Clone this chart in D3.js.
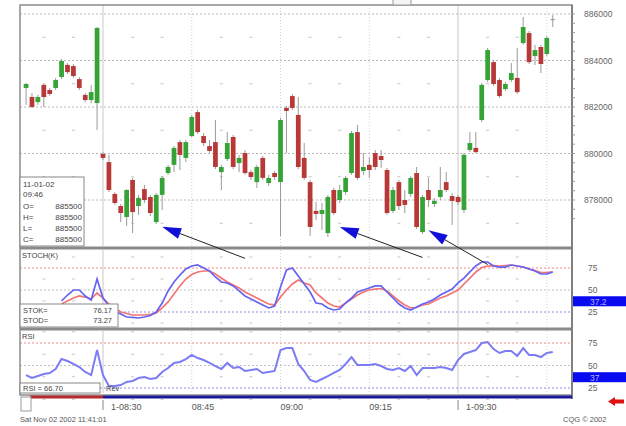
<!DOCTYPE html>
<html>
<head>
<meta charset="utf-8">
<script src="https://cdn.jsdelivr.net/npm/d3@7"></script>
<style>
  body { margin: 0; background: #fff; }
  svg { display: block; font-family: "Liberation Sans", Arial, sans-serif; }
</style>
</head>
<body>
<svg id="chart" width="626" height="426"></svg>
<script>
// one minute bars: last 13 of 10-31 session, then 11-01 from the open
const times = d3.timeMinute.range(new Date(2002, 9, 31, 15, 2), new Date(2002, 9, 31, 15, 15))
  .concat(d3.timeMinute.range(new Date(2002, 10, 1, 8, 30), new Date(2002, 10, 1, 9, 47)))
  .map(d3.timeFormat("%m-%d %H:%M"));

// [open, high, low, close]
const bars = [
  [8828.2, 8830.3, 8820.9, 8829.9], [8824.3, 8826.0, 8819.6, 8820.0], [8822.1, 8825.2, 8820.9, 8824.3],
  [8829.5, 8829.9, 8820.0, 8824.3], [8827.3, 8828.2, 8824.7, 8825.6], [8828.2, 8832.5, 8827.3, 8831.6],
  [8832.9, 8840.6, 8832.0, 8839.8], [8838.1, 8838.9, 8834.2, 8835.0], [8837.6, 8838.5, 8832.5, 8833.3],
  [8832.0, 8832.9, 8827.3, 8828.2], [8825.2, 8826.0, 8822.1, 8823.0], [8823.0, 8829.5, 8821.7, 8826.4],
  [8821.7, 8854.4, 8810.1, 8854.0],
  [8799.8, 8800.6, 8797.2, 8798.1], [8796.3, 8799.4, 8783.4, 8784.3], [8782.6, 8783.4, 8777.9, 8778.7],
  [8777.4, 8778.3, 8770.5, 8774.4], [8772.7, 8784.7, 8768.8, 8784.3], [8788.6, 8789.5, 8765.8, 8774.8],
  [8777.4, 8782.2, 8773.6, 8780.9], [8784.7, 8786.5, 8778.7, 8780.0], [8781.3, 8782.2, 8773.1, 8774.4],
  [8770.5, 8783.0, 8769.7, 8782.2], [8782.2, 8790.3, 8775.7, 8789.5], [8791.6, 8795.1, 8790.8, 8794.2],
  [8795.1, 8803.2, 8792.0, 8802.4], [8804.9, 8805.8, 8792.9, 8799.4], [8798.1, 8805.8, 8796.3, 8804.9],
  [8807.5, 8816.6, 8807.1, 8815.7], [8817.8, 8818.7, 8808.4, 8809.2], [8807.5, 8808.8, 8803.2, 8804.5],
  [8803.2, 8805.8, 8800.2, 8801.1], [8804.9, 8814.4, 8793.3, 8794.2], [8792.0, 8795.1, 8784.3, 8794.2],
  [8797.6, 8809.2, 8796.8, 8804.5], [8807.1, 8808.0, 8793.3, 8794.2], [8795.9, 8799.4, 8792.0, 8798.1],
  [8800.2, 8801.5, 8790.8, 8791.6], [8792.0, 8792.9, 8788.6, 8789.9], [8787.7, 8795.1, 8785.2, 8794.2],
  [8798.1, 8798.9, 8788.6, 8789.5], [8787.3, 8790.8, 8786.0, 8789.5], [8791.6, 8792.5, 8788.6, 8789.9],
  [8787.7, 8815.3, 8764.5, 8814.4], [8819.6, 8820.4, 8800.2, 8818.3], [8824.7, 8825.6, 8818.7, 8819.6],
  [8816.6, 8824.3, 8793.3, 8794.2], [8798.1, 8804.5, 8788.6, 8789.5], [8787.7, 8788.6, 8764.5, 8768.4],
  [8775.3, 8779.1, 8771.4, 8774.0], [8774.0, 8778.7, 8767.1, 8775.7], [8765.8, 8782.2, 8764.1, 8781.3],
  [8784.3, 8785.2, 8773.6, 8774.4], [8780.0, 8786.5, 8778.7, 8784.3], [8783.4, 8790.3, 8782.2, 8789.5],
  [8791.6, 8809.7, 8790.8, 8808.8], [8809.2, 8812.3, 8788.6, 8789.5], [8792.5, 8800.2, 8790.8, 8794.2],
  [8795.1, 8798.5, 8789.5, 8792.9], [8800.2, 8801.5, 8792.9, 8794.2], [8798.9, 8801.5, 8793.8, 8797.2],
  [8792.9, 8793.8, 8773.6, 8774.4], [8775.3, 8785.6, 8774.4, 8784.3], [8787.7, 8788.6, 8775.7, 8777.4],
  [8780.0, 8784.3, 8774.4, 8777.9], [8782.6, 8790.3, 8781.3, 8789.5], [8791.6, 8794.2, 8767.5, 8768.4],
  [8766.2, 8782.2, 8765.4, 8781.3], [8784.3, 8789.5, 8777.0, 8780.0], [8778.3, 8780.9, 8777.0, 8779.6],
  [8781.3, 8794.2, 8780.0, 8784.3], [8787.7, 8792.0, 8783.4, 8784.3], [8781.7, 8783.0, 8769.3, 8779.6],
  [8781.3, 8782.2, 8777.9, 8779.1], [8775.7, 8800.2, 8774.4, 8799.4], [8801.5, 8809.2, 8800.6, 8804.5],
  [8802.4, 8809.2, 8800.2, 8800.6], [8814.4, 8830.3, 8813.5, 8829.5], [8831.6, 8845.4, 8830.7, 8844.5],
  [8839.3, 8840.2, 8829.0, 8829.9], [8831.6, 8832.5, 8823.9, 8824.7], [8827.7, 8830.7, 8826.9, 8829.9],
  [8831.6, 8838.9, 8830.7, 8834.6], [8832.5, 8845.4, 8825.6, 8826.4], [8847.5, 8858.7, 8846.7, 8854.4],
  [8851.8, 8852.7, 8838.5, 8839.3], [8841.9, 8846.7, 8838.1, 8844.5], [8845.8, 8846.7, 8834.6, 8838.5],
  [8842.8, 8850.5, 8841.9, 8849.7], [8857.8, 8859.5, 8854.4, 8857.8]
];

const stochK = [null, null, null, null, null, null,
  37.5, 44.3, 50.0, 50.0, 43.2, 38.6, 62.5,
  40.9, 31.8, 26.2, 22.7, 19.3, 18.8, 18.2, 19.3, 21.0, 25.0,
  35.2, 48.9, 59.1, 67.0, 73.9, 77.3, 78.4, 75.0, 71.6, 64.8,
  59.1, 58.0, 54.6, 48.9, 43.2, 39.8, 36.4, 33.0, 29.6, 31.8,
  53.4, 72.7, 75.0, 65.9, 56.8, 47.7, 35.2, 34.1, 29.6, 27.3,
  28.4, 35.2, 40.9, 47.7, 50.0, 52.3, 54.6, 54.6, 47.7, 40.9,
  34.1, 29.6, 27.3, 30.7, 34.1, 36.4, 39.8, 44.3, 47.7, 51.1,
  58.0, 63.6, 70.5, 77.3, 81.8, 81.8, 77.3, 76.1, 76.1, 78.4,
  77.3, 76.1, 73.9, 71.6, 68.2, 68.2, 70.5];

const stochD = [null, null, null, null, null, null,
  34.1, 37.5, 40.9, 43.2, 42.0, 39.8, 46.6,
  40.9, 34.1, 29.6, 25.0, 23.3, 21.6, 21.6, 21.6, 22.2, 23.9,
  29.6, 36.4, 45.5, 54.6, 62.5, 67.6, 70.5, 71.6, 71.6, 68.2,
  63.6, 59.1, 55.7, 52.3, 47.7, 44.3, 40.9, 37.5, 34.1, 33.0,
  42.0, 50.0, 56.8, 61.4, 58.0, 55.7, 46.6, 40.9, 35.2, 31.8,
  30.7, 35.2, 39.8, 44.3, 47.7, 50.0, 51.1, 51.7, 48.9, 43.2,
  37.5, 33.0, 29.6, 30.1, 33.0, 34.1, 37.5, 40.9, 43.2, 46.6,
  50.0, 56.8, 63.6, 70.5, 75.6, 77.3, 77.8, 77.3, 77.8, 78.4,
  77.3, 76.1, 73.9, 72.2, 69.9, 69.9, 70.5];

const rsi = [
  39.4, 36.1, 38.3, 40.6, 41.7, 46.1, 57.2, 55.0, 51.7, 48.3, 42.8, 39.4, 67.2,
  39.4, 27.2, 27.2, 28.3, 31.7, 32.8, 36.1, 37.2, 35.0, 36.1,
  42.8, 47.2, 52.8, 53.9, 57.2, 61.7, 58.3, 56.1, 52.8, 49.4,
  46.1, 52.8, 47.2, 48.3, 43.9, 45.0, 46.1, 41.7, 42.8, 43.9,
  67.2, 69.4, 69.4, 51.7, 43.9, 33.9, 31.7, 35.0, 38.3, 41.7,
  45.0, 51.7, 59.4, 50.6, 50.6, 50.6, 51.7, 49.4, 46.1, 45.0,
  47.2, 43.9, 49.4, 39.4, 47.2, 47.2, 47.2, 48.3, 47.2, 45.0,
  56.1, 62.8, 65.0, 67.2, 75.0, 76.1, 68.3, 63.9, 66.1, 66.1,
  60.6, 69.4, 61.7, 61.7, 59.4, 63.9, 65.0];

const priceLevels = [8860, 8840, 8820, 8800, 8780];
const priceMinor = [8850, 8830, 8810, 8790, 8770];
const oscLevels = [75, 50, 25];
const oscMinor = [87.5, 62.5, 37.5, 12.5];
const gridTimes = ["11-01 08:30", "11-01 08:45", "11-01 09:00", "11-01 09:15", "11-01 09:30", "11-01 09:45"];
const minorTimes = ["10-31 15:05", "10-31 15:10", "11-01 08:35", "11-01 08:40", "11-01 08:50", "11-01 08:55",
  "11-01 09:05", "11-01 09:10", "11-01 09:20", "11-01 09:25", "11-01 09:35", "11-01 09:40"];
const axisTimes = ["11-01 08:30", "11-01 08:45", "11-01 09:00", "11-01 09:15", "11-01 09:30"];
const axisLabels = ["1-08:30", "08:45", "09:00", "09:15", "1-09:30"];

const infoRows = [["O=", "885500"], ["H=", "885500"], ["L=", "885500"], ["C=", "885500"]];
const stochRows = [["STOK=", "76.17"], ["STOD=", "73.27"]];
const stochMarker = 37.2, rsiMarker = 37;

// blue pointers from the price lows down to the stochastic
const arrows = [
  {tip: ["11-01 08:40", 8768.5], end: ["11-01 08:54", 86]},
  {tip: ["11-01 09:10", 8768.4], end: ["11-01 09:24", 87]},
  {tip: ["11-01 09:25", 8767.0], end: ["11-01 09:35", 79]}
];

const svg = d3.select("#chart");
const left = 20, right = 572;
const panels = {price: [5, 246], stoch: [250, 327], rsi: [331, 393]};

const x = d3.scaleBand().domain(times).range([23.1, 555.7]).paddingInner(0.2).paddingOuter(0.1);
const cx = t => x(t) + x.bandwidth() / 2;
const yPrice = d3.scaleLinear().domain([8780, 8860]).range([200, 14]);
const yStoch = d3.scaleLinear().domain([25, 75]).range([312, 268]);
const yRsi = d3.scaleLinear().domain([25, 75]).range([388, 343]);

const data = bars.map((b, i) => ({t: times[i], o: b[0], h: b[1], l: b[2], c: b[3]}));

// grid
const grid = svg.append("g");
function panelGrid(range, y, major, minor, colors) {
  grid.selectAll(null).data(gridTimes).enter().append("line")
    .attr("x1", d => cx(d)).attr("x2", d => cx(d))
    .attr("y1", range[0]).attr("y2", range[1])
    .attr("stroke", d => (d.endsWith(":30") ? "#c8c8c8" : "#d0d0d0"))
    .attr("stroke-dasharray", d => (d.endsWith(":30") ? null : "1,2"));
  grid.selectAll(null).data(major).enter().append("line")
    .attr("x1", left).attr("x2", right)
    .attr("y1", d => y(d)).attr("y2", d => y(d))
    .attr("stroke", (d, i) => colors[i]).attr("stroke-dasharray", "2,2");
  minor.forEach(v => {
    grid.selectAll(null).data(minorTimes).enter().append("line")
      .attr("x1", d => cx(d) - 1.5).attr("x2", d => cx(d) + 1.5)
      .attr("y1", y(v)).attr("y2", y(v))
      .attr("stroke", "#c4c4c4");
  });
}
panelGrid(panels.price, yPrice, priceLevels, priceMinor, priceLevels.map(() => "#b8b8b8"));
panelGrid(panels.stoch, yStoch, oscLevels, oscMinor, ["#f08a8a", "#c0c0c0", "#8a8af0"]);
panelGrid(panels.rsi, yRsi, oscLevels, oscMinor, ["#f08a8a", "#c0c0c0", "#8a8af0"]);

// oscillators
const lineOf = (arr, y) => d3.line()
  .defined((d, i) => arr[i] != null)
  .x(d => cx(d)).y((d, i) => y(arr[i]))(times);

svg.append("path").attr("d", lineOf(stochD, yStoch))
  .attr("fill", "none").attr("stroke", "#f37474").attr("stroke-width", 1.7);
svg.append("path").attr("d", lineOf(stochK, yStoch))
  .attr("fill", "none").attr("stroke", "#6464f2").attr("stroke-width", 1.7);
svg.append("path").attr("d", lineOf(rsi, yRsi))
  .attr("fill", "none").attr("stroke", "#7c7cf4").attr("stroke-width", 2);

// candles
const candle = svg.append("g").selectAll("g").data(data).enter().append("g");
candle.append("line")
  .attr("x1", d => cx(d.t)).attr("x2", d => cx(d.t))
  .attr("y1", d => yPrice(d.h)).attr("y2", d => yPrice(d.l))
  .attr("stroke", "#9a9a9a");
candle.append("rect")
  .attr("x", d => x(d.t)).attr("width", x.bandwidth())
  .attr("y", d => yPrice(Math.max(d.o, d.c)))
  .attr("height", d => Math.max(1, Math.abs(yPrice(d.o) - yPrice(d.c))))
  .attr("fill", d => (d.c > d.o ? "#35a335" : d.c < d.o ? "#b83838" : "#999"));

// frame
const frame = svg.append("g").attr("fill", "none");
frame.append("rect").attr("x", left).attr("y", 5).attr("width", right - left).attr("height", 390)
  .attr("stroke", "#8c8c8c").attr("stroke-width", 1.5);
[panels.price[1], panels.stoch[1]].forEach(y0 => {
  frame.append("rect").attr("x", left).attr("y", y0 + 0.5).attr("width", right - left).attr("height", 3)
    .attr("fill", "#8a8a8a");
});
frame.append("line").attr("x1", right).attr("x2", right).attr("y1", 5).attr("y2", 399)
  .attr("stroke", "#808080").attr("stroke-width", 2);
// small ruler ticks on the right edge
const rulerTicks = d3.range(8772, 8862, 4);
frame.selectAll(null).data(rulerTicks).enter().append("line")
  .attr("x1", right).attr("x2", right + 3)
  .attr("y1", d => yPrice(d)).attr("y2", d => yPrice(d))
  .attr("stroke", "#999");

// session strip under the panels
svg.append("line").attr("x1", 30).attr("x2", cx(gridTimes[0])).attr("y1", 397).attr("y2", 397)
  .attr("stroke", "#b52a2a").attr("stroke-width", 3);
svg.append("line").attr("x1", cx(gridTimes[0])).attr("x2", right).attr("y1", 397).attr("y2", 397)
  .attr("stroke", "#1a1a9a").attr("stroke-width", 3);
svg.append("rect").attr("x", 21).attr("y", 397).attr("width", 10).attr("height", 14)
  .attr("fill", "#fff").attr("stroke", "#999");

// time axis
const xAxis = svg.append("g").attr("transform", "translate(0,399)")
  .call(d3.axisBottom(x).tickValues(axisTimes).tickFormat((d, i) => axisLabels[i]).tickSize(0));
xAxis.select(".domain").remove();
xAxis.selectAll("text")
  .attr("text-anchor", "start").attr("dy", "0.9em").attr("font-size", 9).attr("fill", "#555")
  .attr("font-family", "Liberation Sans, Arial, sans-serif")
  .attr("x", (d, i) => (axisLabels[i].startsWith("1-") ? 8 : 0));
xAxis.selectAll(".tick").filter((d, i) => axisLabels[i].startsWith("1-")).append("line")
  .attr("y1", 1).attr("y2", 11).attr("stroke", "#888");

// right axes
const priceAxis = svg.append("g").attr("transform", "translate(584,0)")
  .call(d3.axisRight(yPrice).tickValues(priceLevels).tickFormat(d => d3.format(".0f")(d * 100)).tickSize(0));
const oscAxisS = svg.append("g").attr("transform", "translate(588,0)")
  .call(d3.axisRight(yStoch).tickValues(oscLevels).tickSize(0));
const oscAxisR = svg.append("g").attr("transform", "translate(588,0)")
  .call(d3.axisRight(yRsi).tickValues(oscLevels).tickSize(0));
[priceAxis, oscAxisS, oscAxisR].forEach(a => {
  a.select(".domain").remove();
  a.selectAll("text").attr("x", 0).attr("font-size", 8.5).attr("fill", "#666")
    .attr("font-family", "Liberation Sans, Arial, sans-serif");
});

// value markers on the right
[[yStoch(stochMarker), d3.format(".1f")(stochMarker)], [yRsi(rsiMarker), String(rsiMarker)]].forEach(m => {
  svg.append("rect").attr("x", right + 1).attr("y", m[0] - 5).attr("width", 626 - right).attr("height", 10)
    .attr("fill", "#0a0af0");
  svg.append("text").attr("x", 590).attr("y", m[0] + 3.5).attr("font-size", 8.5).attr("fill", "#aab4ff")
    .text(m[1]);
});

// annotations
const ann = svg.append("g");
arrows.forEach(a => {
  const x0 = cx(a.tip[0]), y0 = yPrice(a.tip[1]);
  const x1 = cx(a.end[0]), y1 = yStoch(a.end[1]);
  const ang = Math.atan2(y1 - y0, x1 - x0);
  const len = 19, half = 5.5;
  const bx = x0 + len * Math.cos(ang), by = y0 + len * Math.sin(ang);
  ann.append("line").attr("x1", bx).attr("y1", by).attr("x2", x1).attr("y2", y1)
    .attr("stroke", "#222").attr("stroke-width", 1);
  ann.append("path")
    .attr("d", `M${x0},${y0}L${bx - half * Math.sin(ang)},${by + half * Math.cos(ang)}L${bx + half * Math.sin(ang)},${by - half * Math.cos(ang)}Z`)
    .attr("fill", "#1010d8");
});

// info box in price panel
const info = svg.append("g").attr("font-size", 8).attr("fill", "#444");
info.append("rect").attr("x", left).attr("y", 177).attr("width", 64).attr("height", 69)
  .attr("fill", "#fff").attr("stroke", "#888");
info.append("text").attr("x", 23).attr("y", 187).text("11-01-02");
info.append("text").attr("x", 23).attr("y", 197).text(times[times.length - 1].slice(6));
infoRows.forEach((r, i) => {
  info.append("text").attr("x", 23).attr("y", 209 + i * 11).text(r[0]);
  info.append("text").attr("x", 82).attr("y", 209 + i * 11).attr("text-anchor", "end").text(r[1]);
});

// stochastic title and legend
const lab = svg.append("g").attr("font-size", 7.5).attr("fill", "#444");
lab.append("text").attr("x", 22).attr("y", 258).text("STOCH(K)");
lab.append("rect").attr("x", left).attr("y", 304).attr("width", 98).attr("height", 23)
  .attr("fill", "#fff").attr("stroke", "#888");
stochRows.forEach((r, i) => {
  lab.append("text").attr("x", 23).attr("y", 313 + i * 10).text(r[0]);
  lab.append("text").attr("x", 112).attr("y", 313 + i * 10).attr("text-anchor", "end").text(r[1]);
});
lab.append("text").attr("x", 22).attr("y", 339).text("RSI");
lab.append("rect").attr("x", left).attr("y", 383).attr("width", 80).attr("height", 10)
  .attr("fill", "#fff").attr("stroke", "#888");
lab.append("text").attr("x", 23).attr("y", 391).text("RSI   =   " + d3.format(".2f")(66.7));
lab.append("text").attr("x", 106).attr("y", 391).text("Rev");

// footer
svg.append("text").attr("x", 20).attr("y", 422).attr("font-size", 7.5).attr("fill", "#555")
  .text("Sat Nov 02 2002 11:41:01");
svg.append("text").attr("x", 563).attr("y", 422).attr("font-size", 7.5).attr("fill", "#555")
  .text("CQG \u00a9 2002");
svg.append("path").attr("d", "M608,401.5L615,397L615,399.5L624,399.5L624,403.5L615,403.5L615,406Z")
  .attr("fill", "#e01010");
svg.append("rect").attr("x", 393).attr("y", -1).attr("width", 18).attr("height", 6)
  .attr("fill", "#f4f4f4").attr("stroke", "#999");
</script>
</body>
</html>
